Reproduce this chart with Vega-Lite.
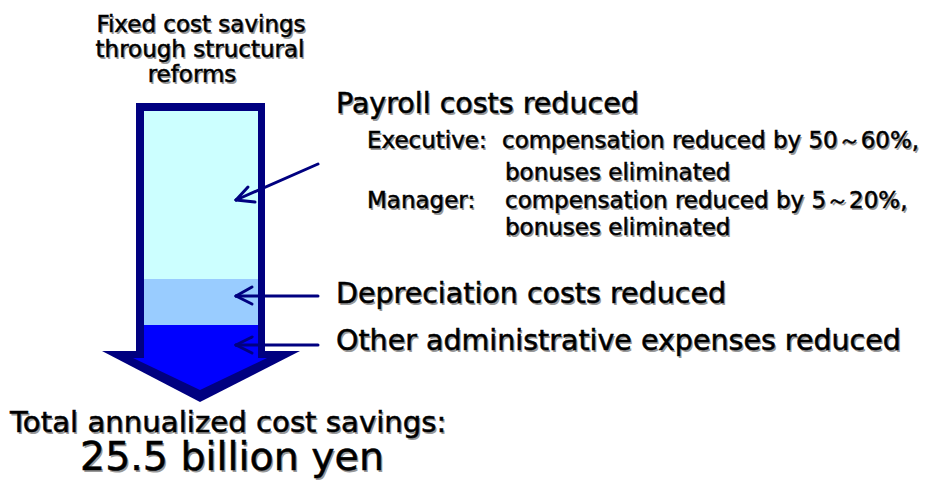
{
  "$schema": "https://vega.github.io/schema/vega-lite/v6.json",
  "width": 927,
  "height": 488,
  "autosize": {"type": "fit", "contains": "padding"},
  "padding": 0,
  "background": "white",
  "config": {"view": {"stroke": null}, "text": {"font": "DejaVu Sans"}},
  "datasets": {
    "rects": [
      {"part": "border", "x": 136, "x2": 265, "y": 103, "y2": 358},
      {"part": "payroll", "x": 144, "x2": 258, "y": 111, "y2": 279},
      {"part": "depreciation", "x": 144, "x2": 258, "y": 279, "y2": 325},
      {"part": "other", "x": 144, "x2": 258, "y": 325, "y2": 361}
    ],
    "outerHead": [
      {"x": 102, "y": 351, "y2": 351},
      {"x": 200, "y": 351, "y2": 402},
      {"x": 300, "y": 351, "y2": 351}
    ],
    "innerHead": [
      {"x": 133, "y": 358, "y2": 358},
      {"x": 200, "y": 358, "y2": 390},
      {"x": 267, "y": 358, "y2": 358}
    ],
    "arrows": [
      {"arrow": "payroll", "x": 318, "y": 164, "x2": 236, "y2": 200},
      {"arrow": "payroll", "x": 248, "y": 187, "x2": 236, "y2": 200},
      {"arrow": "payroll", "x": 255, "y": 202, "x2": 236, "y2": 200},
      {"arrow": "depreciation", "x": 318, "y": 296, "x2": 236, "y2": 296},
      {"arrow": "depreciation", "x": 252, "y": 287, "x2": 236, "y2": 296},
      {"arrow": "depreciation", "x": 252, "y": 304, "x2": 236, "y2": 296},
      {"arrow": "other", "x": 318, "y": 345, "x2": 236, "y2": 345},
      {"arrow": "other", "x": 252, "y": 337, "x2": 236, "y2": 345},
      {"arrow": "other", "x": 252, "y": 353, "x2": 236, "y2": 345}
    ],
    "title": [
      {"label": "Fixed cost savings", "x": 201, "y": 32},
      {"label": "through structural", "x": 200, "y": 57},
      {"label": "reforms", "x": 192, "y": 82}
    ],
    "main": [
      {"label": "Payroll costs reduced", "x": 336, "y": 113},
      {"label": "Depreciation costs reduced", "x": 336, "y": 303},
      {"label": "Other administrative expenses reduced", "x": 336, "y": 350}
    ],
    "total": [
      {"label": "Total annualized cost savings:", "x": 10, "y": 432}
    ],
    "sub": [
      {"label": "Executive:", "x": 367, "y": 148},
      {"label": "compensation reduced by 50～60%,", "x": 502, "y": 148},
      {"label": "bonuses eliminated", "x": 505, "y": 180},
      {"label": "Manager:", "x": 367, "y": 208},
      {"label": "compensation reduced by 5～20%,", "x": 505, "y": 208},
      {"label": "bonuses eliminated", "x": 505, "y": 235}
    ],
    "amount": [
      {"label": "25.5 billion yen", "x": 80, "y": 470}
    ]
  },
  "layer": [
    {
      "data": {"name": "rects"},
      "transform": [{"filter": "datum.part === 'border'"}],
      "mark": {"type": "rect", "color": "#000080"},
      "encoding": {
        "x": {"field": "x", "type": "quantitative", "scale": {"domain": [0, 927], "nice": false, "zero": false}, "axis": null},
        "x2": {"field": "x2"},
        "y": {"field": "y", "type": "quantitative", "scale": {"domain": [0, 488], "nice": false, "zero": false, "reverse": true}, "axis": null},
        "y2": {"field": "y2"}
      }
    },
    {
      "data": {"name": "outerHead"},
      "mark": {"type": "area", "orient": "vertical", "color": "#000080", "interpolate": "linear"},
      "encoding": {
        "x": {"field": "x", "type": "quantitative", "axis": null},
        "y": {"field": "y", "type": "quantitative", "axis": null},
        "y2": {"field": "y2"}
      }
    },
    {
      "data": {"name": "rects"},
      "transform": [{"filter": "datum.part !== 'border'"}],
      "mark": {"type": "rect"},
      "encoding": {
        "x": {"field": "x", "type": "quantitative", "axis": null},
        "x2": {"field": "x2"},
        "y": {"field": "y", "type": "quantitative", "axis": null},
        "y2": {"field": "y2"},
        "color": {"field": "part", "type": "nominal", "legend": null,
          "scale": {"domain": ["payroll", "depreciation", "other"], "range": ["#CCFFFF", "#99CCFF", "#0000FF"]}}
      }
    },
    {
      "data": {"name": "innerHead"},
      "mark": {"type": "area", "orient": "vertical", "color": "#0000FF", "interpolate": "linear"},
      "encoding": {
        "x": {"field": "x", "type": "quantitative", "axis": null},
        "y": {"field": "y", "type": "quantitative", "axis": null},
        "y2": {"field": "y2"}
      }
    },
    {
      "data": {"name": "arrows"},
      "mark": {"type": "rule", "color": "#000080", "strokeWidth": 3, "strokeCap": "round"},
      "encoding": {
        "x": {"field": "x", "type": "quantitative", "axis": null},
        "x2": {"field": "x2"},
        "y": {"field": "y", "type": "quantitative", "axis": null},
        "y2": {"field": "y2"}
      }
    },
    {
      "data": {"name": "title"},
      "mark": {"type": "text", "fontSize": 23, "align": "center", "baseline": "alphabetic", "color": "#999999", "dx": 1.5, "dy": 1.5},
      "encoding": {"x": {"field": "x", "type": "quantitative"}, "y": {"field": "y", "type": "quantitative"}, "text": {"field": "label"}}
    },
    {
      "data": {"name": "title"},
      "mark": {"type": "text", "fontSize": 23, "align": "center", "baseline": "alphabetic", "color": "#000000", "stroke": "#000000", "strokeWidth": 0.5},
      "encoding": {"x": {"field": "x", "type": "quantitative"}, "y": {"field": "y", "type": "quantitative"}, "text": {"field": "label"}}
    },
    {
      "data": {"name": "main"},
      "mark": {"type": "text", "fontSize": 28.5, "align": "left", "baseline": "alphabetic", "color": "#999999", "dx": 1.5, "dy": 1.5},
      "encoding": {"x": {"field": "x", "type": "quantitative"}, "y": {"field": "y", "type": "quantitative"}, "text": {"field": "label"}}
    },
    {
      "data": {"name": "main"},
      "mark": {"type": "text", "fontSize": 28.5, "align": "left", "baseline": "alphabetic", "color": "#000000", "stroke": "#000000", "strokeWidth": 0.5},
      "encoding": {"x": {"field": "x", "type": "quantitative"}, "y": {"field": "y", "type": "quantitative"}, "text": {"field": "label"}}
    },
    {
      "data": {"name": "total"},
      "mark": {"type": "text", "fontSize": 29.2, "align": "left", "baseline": "alphabetic", "color": "#999999", "dx": 1.5, "dy": 1.5},
      "encoding": {"x": {"field": "x", "type": "quantitative"}, "y": {"field": "y", "type": "quantitative"}, "text": {"field": "label"}}
    },
    {
      "data": {"name": "total"},
      "mark": {"type": "text", "fontSize": 29.2, "align": "left", "baseline": "alphabetic", "color": "#000000", "stroke": "#000000", "strokeWidth": 0.5},
      "encoding": {"x": {"field": "x", "type": "quantitative"}, "y": {"field": "y", "type": "quantitative"}, "text": {"field": "label"}}
    },
    {
      "data": {"name": "sub"},
      "mark": {"type": "text", "fontSize": 23, "align": "left", "baseline": "alphabetic", "color": "#999999", "dx": 1.5, "dy": 1.5},
      "encoding": {"x": {"field": "x", "type": "quantitative"}, "y": {"field": "y", "type": "quantitative"}, "text": {"field": "label"}}
    },
    {
      "data": {"name": "sub"},
      "mark": {"type": "text", "fontSize": 23, "align": "left", "baseline": "alphabetic", "color": "#000000", "stroke": "#000000", "strokeWidth": 0.5},
      "encoding": {"x": {"field": "x", "type": "quantitative"}, "y": {"field": "y", "type": "quantitative"}, "text": {"field": "label"}}
    },
    {
      "data": {"name": "amount"},
      "mark": {"type": "text", "fontSize": 39.5, "align": "left", "baseline": "alphabetic", "color": "#999999", "dx": 1.5, "dy": 1.5},
      "encoding": {"x": {"field": "x", "type": "quantitative"}, "y": {"field": "y", "type": "quantitative"}, "text": {"field": "label"}}
    },
    {
      "data": {"name": "amount"},
      "mark": {"type": "text", "fontSize": 39.5, "align": "left", "baseline": "alphabetic", "color": "#000000", "stroke": "#000000", "strokeWidth": 0.5},
      "encoding": {"x": {"field": "x", "type": "quantitative"}, "y": {"field": "y", "type": "quantitative"}, "text": {"field": "label"}}
    }
  ]
}
